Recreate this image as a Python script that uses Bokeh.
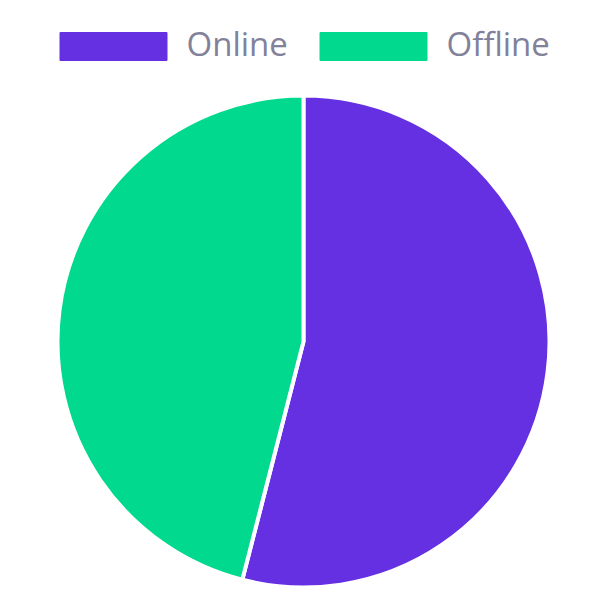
import numpy as np
from bokeh.plotting import figure
from bokeh.models import Range1d, ColumnDataSource
from bokeh.core.properties import value
from bokeh.embed import file_html
from bokeh.resources import INLINE

categories = ["Online", "Offline"]
values = [54, 46]
colors = ["#6430E2", "#00D98E"]

W, H = 600, 600
p = figure(width=W, height=H, output_backend="svg", toolbar_location=None,
           x_range=Range1d(0, W), y_range=Range1d(0, H), min_border=0)
p.axis.visible = False
p.grid.visible = False
p.outline_line_color = None
p.background_fill_color = "white"
p.border_fill_color = "white"

vals = np.array(values, dtype=float)
frac = vals / vals.sum()
cum = np.concatenate([[0], np.cumsum(frac)])
# clockwise from 12 o'clock
start = np.pi / 2 - cum[1:] * 2 * np.pi
end = np.pi / 2 - cum[:-1] * 2 * np.pi
src = ColumnDataSource(dict(cat=categories, start=start, end=end, color=colors))
cx, cy, r = 303, H - 341, 246
p.wedge(x=cx, y=cy, radius=r, start_angle="start", end_angle="end",
        fill_color="color", line_color="white", line_width=4, source=src)

# legend
box_x = [59, 319]
text_x = [186, 446]
ly = H - 46
for i, c in enumerate(categories):
    p.rect(x=box_x[i] + 54, y=ly, width=107, height=28, fill_color=colors[i],
           line_color=colors[i], line_width=1)
    p.text(x=[text_x[i]], y=[ly + 3], text=[c], text_font=value("Open Sans"),
           text_font_size="33px", text_color="#82819A", text_baseline="middle",
           text_align="left")

open("out.html", "w").write(file_html(p, INLINE))
